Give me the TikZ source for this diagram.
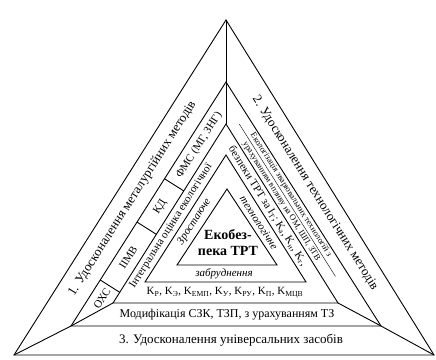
\documentclass[tikz,border=0pt]{standalone}
\usepackage{fontspec}
\setmainfont{Liberation Serif}
\usetikzlibrary{calc}

\begin{document}
\begin{tikzpicture}[x=1pt, y=1pt,
  edge/.style={line width=0.9pt},
  big/.style={font=\fontsize{13}{15}\selectfont, inner sep=0pt},
  mid/.style={font=\fontsize{11}{13}\selectfont, inner sep=0pt},
  tiny/.style={font=\fontsize{8.5}{10}\selectfont, inner sep=0pt}]

\useasboundingbox (0,0) rectangle (436,359);

% corners of the nested triangles
\coordinate (a0) at (226,339); \coordinate (l0) at (14,4);  \coordinate (r0) at (434,4);
\coordinate (a1) at (226,277); \coordinate (l1) at (71,33); \coordinate (r1) at (381,33);
\coordinate (a2) at (226,235); \coordinate (l2) at (113,56); \coordinate (r2) at (338,56);
\coordinate (a3) at (226,204); \coordinate (l3) at (145,77); \coordinate (r3) at (306,77);
\coordinate (a4) at (227,170); \coordinate (l4) at (177,94); \coordinate (r4) at (277,94);

% triangles and edges of the pyramid
\foreach \t in {0,...,4} {
  \draw[edge] (a\t) -- (l\t) -- (r\t) -- cycle;
}
\draw[edge] (a0) -- (a2);
\draw[edge] (l0) -- (l1) -- (l2);
\draw[edge] (r0) -- (r1) -- (r2);

% Level 1: three outer bands
\path ($(l0)!0.5!(l1)$) -- ($(a0)!0.5!(a1)$)
  node[big, sloped, pos=0.49] (metal) {1. Удосконалення металургійних методів};
\path ($(a0)!0.5!(a1)$) -- ($(r0)!0.5!(r1)$)
  node[big, sloped, pos=0.49] (tech) {2. Удосконалення технологічних методів};
\node[big] (univ) at (231,18.5) {3. Удосконалення універсальних засобів};

% Level 2: left band split into boxes
\coordinate (m1l) at ($(l1)!0.5!(l2)$);
\coordinate (m1a) at ($(a1)!0.5!(a2)$);
\coordinate (m1r) at ($(r1)!0.5!(r2)$);
\foreach \f in {0.134, 0.408, 0.613} {
  \coordinate (p) at ($(m1l)!\f!(m1a)$);
  \draw[edge] ($(l1)!(p)!(a1)$) -- ($(l2)!(p)!(a2)$);
}
\path (m1l) -- (m1a)
  node[mid, sloped, pos=0.075] (ohs) {ОХС}
  node[mid, sloped, pos=0.27] (iimv) {ІІМВ}
  node[mid, sloped, pos=0.51] (kd) {КД}
  node[mid, sloped, pos=0.80] (fms) {ФМС (МГ, ЗНГ)};

% Level 2: right band, two rows
\path ($(a1)!0.25!(a2)$) -- ($(r1)!0.25!(r2)$)
  node[tiny, sloped, pos=0.45] (ekol) {Екологізація зварювальних технологій з};
\path ($(a1)!0.75!(a2)$) -- ($(r1)!0.75!(r2)$)
  node[tiny, sloped, pos=0.45] (vplyv) {урахуванням впливу на ОМ, ШП, ЗТВ};
\draw[thin] ($(m1a)!0.1!(m1r)$) -- ($(m1a)!0.82!(m1r)$);
\node[mid, font=\fontsize{12}{14}\selectfont] (modyf) at (227,44.5) {Модифікація СЗК, ТЗП, з урахуванням ТЗ};

% Level 3: integral estimate
\path ($(l2)!0.5!(l3)$) -- ($(a2)!0.5!(a3)$)
  node[mid, sloped, pos=0.435] (integr) {Інтегральна оцінка екологічної};
\path ($(a2)!0.5!(a3)$) -- ($(r2)!0.5!(r3)$)
  node[mid, sloped, pos=0.435] (bezp) {безпеки ТРТ за I\textsubscript{Т}; K\textsubscript{а}, K\textsubscript{н}, K\textsubscript{т},};
\node[mid] (koef) at (225,66.5) {K\textsubscript{Р}, K\textsubscript{Э}, K\textsubscript{ЕМП}, K\textsubscript{У}, K\textsubscript{РУ}, K\textsubscript{П}, K\textsubscript{МЦВ}};

% Level 4: growing pollution
\path ($(l3)!0.5!(l4)$) -- ($(a3)!0.5!(a4)$)
  node[mid, sloped, pos=0.51, font=\fontsize{11}{13}\selectfont\itshape] (zrost) {Зростаюче};
\path ($(a3)!0.5!(a4)$) -- ($(r3)!0.5!(r4)$)
  node[mid, sloped, pos=0.5, font=\fontsize{11}{13}\selectfont\itshape] (tehn) {технологічне};
\node[mid, font=\fontsize{11}{13}\selectfont\itshape] (zabr) at (224,85.5) {забруднення};

% core
\node[big, font=\fontsize{14}{16}\selectfont\bfseries, align=center] (core) at (228,116) {Екобез-\\пека ТРТ};
\end{tikzpicture}
\end{document}
